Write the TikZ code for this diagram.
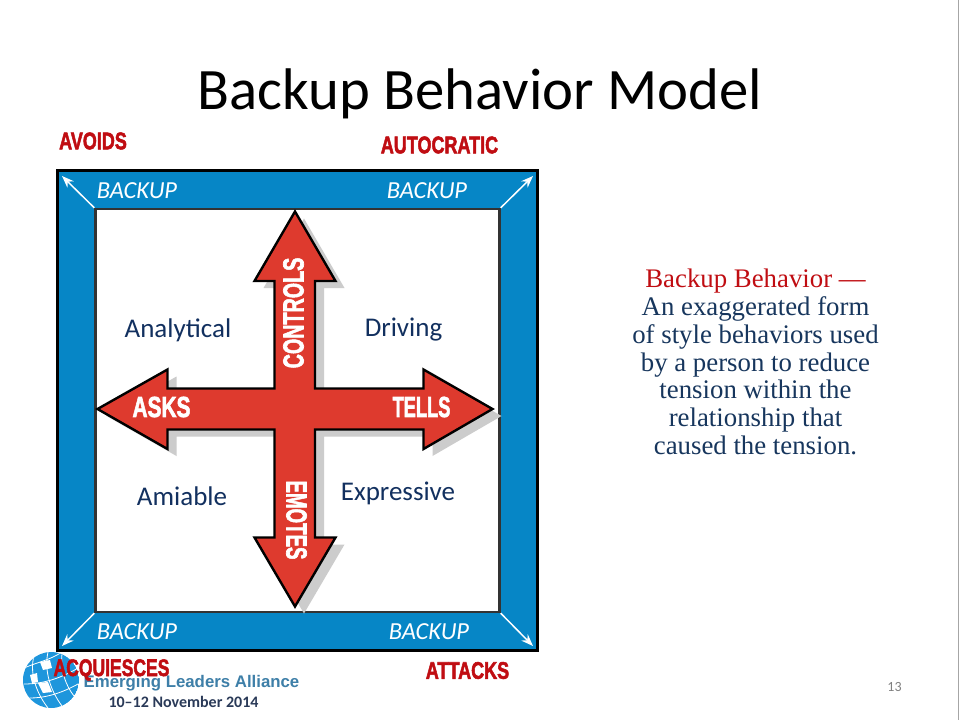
\documentclass[tikz,border=0pt]{standalone}
\usepackage{graphicx}
\usepackage{fontspec}
\setmainfont{Carlito}
\newfontfamily\serifface{Liberation Serif}
\newfontfamily\heavyface[FakeBold=2.4]{Liberation Sans Bold}
\newfontfamily\logoface{Liberation Sans}
\usetikzlibrary{arrows.meta}
\definecolor{frameblue}{HTML}{0686C6}
\definecolor{crossred}{HTML}{DE3A2E}
\definecolor{labelred}{HTML}{C00D12}
\definecolor{navy}{HTML}{12305F}
\definecolor{textnavy}{HTML}{17365D}
\definecolor{logoblue}{HTML}{3E7FA8}
\definecolor{logodark}{HTML}{2A3A58}
\definecolor{globeblue}{HTML}{1E96DC}
\newcommand{\cornertext}[2][0.75]{\scalebox{#1}[1]{\heavyface\fontsize{24}{24}\selectfont #2}}
\newcommand{\armtext}[2][0.72]{\scalebox{#1}[1]{\heavyface\fontsize{29}{29}\selectfont #2}}
\tikzset{
  cornerlabel/.style={text=labelred, inner sep=0pt},
  armlabel/.style={text=white, inner sep=0pt},
  backup/.style={font=\itshape\fontsize{24.5}{24.5}\selectfont, text=white, inner sep=0pt},
  stylelabel/.style={font=\fontsize{27}{27}\selectfont, text=navy, inner sep=0pt},
  cornerarrow/.style={draw=white, line width=1.5pt, -{Stealth[length=12pt,width=9pt]}},
  gridline/.style={draw=white, line width=0.8pt},
}
\begin{document}
\begin{tikzpicture}[x=1pt,y=-1pt]
\useasboundingbox (0,0) rectangle (960,720);
\fill[white] (0,0) rectangle (960,720);
\draw[black!35, line width=1pt] (958.5,0) -- (958.5,720);
% title
\node[font=\fontsize{58.7}{58.7}\selectfont, inner sep=0pt] (title) at (480,94) {Backup Behavior Model};
% frame
\node[draw=black, line width=3pt, fill=frameblue, minimum width=480pt, minimum height=479.5pt, inner sep=0pt] (frame) at (297.5,410.5) {};
\node[draw=black!80, line width=2.4pt, fill=white, minimum width=404pt, minimum height=403pt, inner sep=0pt] (panel) at (297.5,410.5) {};
\coordinate (c1) at (62,176); \coordinate (c2) at (533,176);
\coordinate (c3) at (62,646); \coordinate (c4) at (533,646);
\draw[cornerarrow] (panel.north west) -- (c1);
\draw[cornerarrow] (panel.north east) -- (c2);
\draw[cornerarrow] (panel.south west) -- (c3);
\draw[cornerarrow] (panel.south east) -- (c4);
\node[backup] (b1) at (137,191) {BACKUP};
\node[backup] (b2) at (427,191) {BACKUP};
\node[backup] (b3) at (137,632) {BACKUP};
\node[backup] (b4) at (429,632) {BACKUP};
% cross
\def\crossdraw{(295,211.5) -- (335.5,281) -- (315,281) -- (315,388.5) -- (423.5,388.5) -- (423.5,369.5) -- (492.5,409) -- (423.5,449) -- (423.5,429.5) -- (315,429.5) -- (315,537.5) -- (335.5,537.5) -- (295,606.5) -- (254.5,537.5) -- (274.5,537.5) -- (274.5,429.5) -- (167.5,429.5) -- (167.5,449) -- (97.5,409) -- (167.5,369.5) -- (167.5,388.5) -- (274.5,388.5) -- (274.5,281) -- (254.5,281) -- cycle}
\fill[black!20, shift={(9,7)}] \crossdraw;
\draw[black, line width=2.4pt, fill=crossred, line join=miter] \crossdraw;
\node[armlabel, rotate=90] (controls) at (293.5,313) {\armtext[0.68]{CONTROLS}};
\node[armlabel, rotate=270] (emotes) at (296.5,520) {\armtext[0.645]{EMOTES}};
\node[armlabel] (asks) at (161.5,407) {\armtext[0.72]{ASKS}};
\node[armlabel] (tells) at (421.5,407) {\armtext[0.63]{TELLS}};
\node[stylelabel] (analytical) at (178,330) {Analytical};
\node[stylelabel] (driving) at (403.5,330) {Driving};
\node[stylelabel] (amiable) at (182,496) {Amiable};
\node[stylelabel] (expressive) at (398,493.5) {Expressive};
% logo
\begin{scope}
\clip (51,680) circle (28);
\fill[globeblue] (51,680) circle (28);
\fill[white] (40,662) -- (50,660) -- (52,668) -- (43,670) -- cycle;
\fill[white] (30,675) -- (37,673) -- (38,682) -- (32,683) -- cycle;
\fill[white] (38,683) -- (48,682) -- (52,692) -- (43,693) -- cycle;
\draw[gridline] (24,668) .. controls (38,662) and (50,660) .. (62,652);
\draw[gridline] (24,684) .. controls (40,684) and (58,680) .. (78,668);
\draw[gridline] (30,698) .. controls (44,698) and (60,694) .. (78,684);
\draw[gridline] (34,656) .. controls (30,670) and (34,690) .. (48,708);
\draw[gridline] (48,652) .. controls (44,670) and (50,690) .. (62,706);
\draw[gridline] (62,654) .. controls (60,670) and (66,686) .. (74,696);
\end{scope}
\node[font=\logoface\bfseries\fontsize{16.8}{16.8}\selectfont, text=logoblue, inner sep=0pt] (ela) at (191.5,683) {Emerging Leaders Alliance};
\node[font=\bfseries\fontsize{16}{16}\selectfont, text=logodark, inner sep=0pt] (dates) at (183.5,702) {10--12 November 2014};
% corner labels
\node[cornerlabel] (avoids) at (93,141) {\cornertext{AVOIDS}};
\node[cornerlabel] (autocratic) at (439.5,145) {\cornertext{AUTOCRATIC}};
\node[cornerlabel] (acq) at (111.5,670) {\cornertext[0.73]{ACQUIESCES}};
\node[cornerlabel] (attacks) at (467.5,670.5) {\cornertext{ATTACKS}};
\node[font=\fontsize{14}{14}\selectfont, text=black!50, inner sep=0pt] (pageno) at (894.5,686.5) {13};
% text
\node[font=\serifface\fontsize{26.8}{27.8}\selectfont, text=textnavy, align=center, inner sep=0pt] (def) at (755.5,362)
 {\textcolor{labelred}{Backup Behavior —}\\An exaggerated form\\of style behaviors used\\by a person to reduce\\tension within the\\relationship that\\caused the tension.};
\end{tikzpicture}
\end{document}
